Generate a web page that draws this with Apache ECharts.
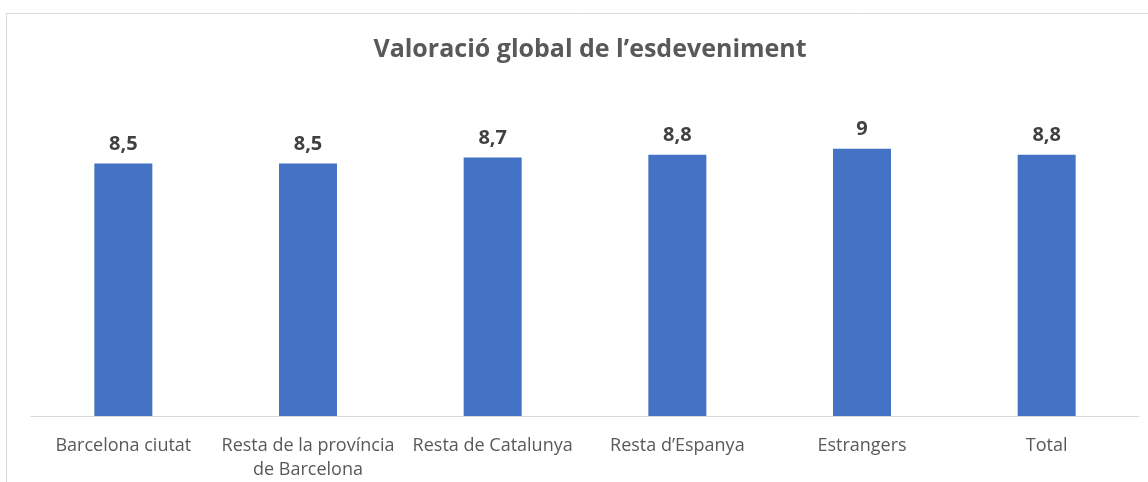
<!DOCTYPE html>
<html>
<head>
<meta charset="utf-8">
<script src="https://cdn.jsdelivr.net/npm/echarts@6/dist/echarts.min.js"></script>
<style>
  html, body { margin: 0; padding: 0; background: #fff; }
  #chart { width: 1148px; height: 482px; }
</style>
</head>
<body>
<div id="chart"></div>
<script>
var categories = ['Barcelona ciutat', 'Resta de la província\nde Barcelona', 'Resta de Catalunya', 'Resta d\u2019Espanya', 'Estrangers', 'Total'];
var values = [8.5, 8.5, 8.7, 8.8, 9, 8.8];

var chart = echarts.init(document.getElementById('chart'));
chart.setOption({
  animation: false,
  textStyle: { fontFamily: 'Open Sans' },
  title: {
    text: 'Valoració global de l\u2019esdeveniment',
    left: 585,
    textAlign: 'center',
    top: 32,
    textStyle: { fontSize: 25, fontWeight: 'bold', color: '#595959', fontFamily: 'Open Sans' }
  },
  graphic: [{
    type: 'rect',
    shape: { x: 6.5, y: 13.5, width: 1300, height: 600 },
    style: { fill: 'none', stroke: '#d9d9d9', lineWidth: 1 },
    silent: true
  }],
  grid: { left: 31, right: 9, top: 119, bottom: 66 },
  xAxis: {
    type: 'category',
    data: categories,
    axisLine: { lineStyle: { color: '#d9d9d9', width: 1 } },
    axisTick: { show: false },
    axisLabel: { color: '#595959', fontSize: 18, margin: 18, lineHeight: 24, interval: 0 }
  },
  yAxis: {
    type: 'value',
    min: 0,
    max: 10,
    show: false,
    splitLine: { show: false }
  },
  series: [{
    type: 'bar',
    data: values,
    barWidth: 58,
    itemStyle: { color: '#4472c4' },
    label: {
      show: true,
      position: 'top',
      distance: 9,
      color: '#404040',
      fontSize: 20,
      fontWeight: 'bold',
      formatter: function (p) { return String(p.value).replace('.', ','); }
    }
  }]
});
</script>
</body>
</html>
